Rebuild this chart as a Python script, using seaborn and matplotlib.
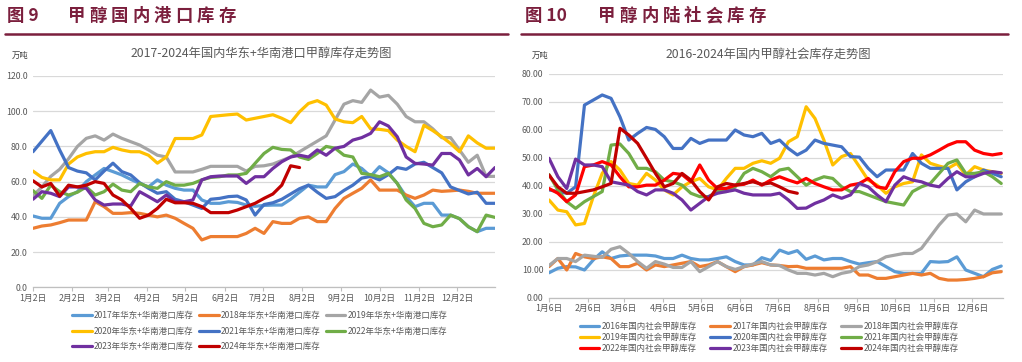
import matplotlib
matplotlib.use("Agg")
import numpy as np
import pandas as pd
import matplotlib.pyplot as plt
import seaborn as sns
from matplotlib.lines import Line2D

sns.set_theme(style="white")
plt.rcParams['font.family'] = ['Noto Sans CJK SC', 'DejaVu Sans']
plt.rcParams['axes.unicode_minus'] = False

# ---------------- Left chart data (weekly, from 1月2日) ----------------
left_labels = ["2017年华东+华南港口库存", "2018年华东+华南港口库存", "2019年华东+华南港口库存",
               "2020年华东+华南港口库存", "2021年华东+华南港口库存", "2022年华东+华南港口库存",
               "2023年华东+华南港口库存", "2024年华东+华南港口库存"]
left_colors = ["#5B9BD5", "#ED7D31", "#A5A5A5", "#FFC000", "#4472C4", "#70AD47", "#7030A0", "#C00000"]

port_2017 = [40.5, 39.2, 39.2, 47.7, 51.5, 54.3, 60, 63.8, 67.5, 65.7, 63.8, 61.3, 59, 57, 61, 58, 56.2,
             55.2, 55.2, 49.6, 47.7, 47.7, 48.6, 48.2, 46.7, 46, 46.5, 46.7, 46.7, 50, 54, 58, 57, 57,
             64, 65.7, 70, 67.5, 63, 68.5, 65, 59, 51.5, 45.8, 47.7, 47.7, 41, 41, 39, 34.4, 31.6, 33.5, 33.5]
port_2018 = [33.5, 34.8, 35.4, 36.7, 38.2, 38.2, 38.2, 48.6, 45.8, 42, 42, 42.4, 42, 41, 40, 41, 39.2,
             36.3, 33.5, 26.9, 28.8, 28.8, 28.8, 28.8, 30.6, 33.5, 30.6, 37.3, 36.3, 36.3, 39.2, 40,
             37.3, 37.3, 44.8, 50.5, 53.4, 56.2, 61, 55.2, 55.2, 55.2, 52.4, 50.5, 52.4, 55.2, 54.5,
             54.8, 55.2, 54.5, 53.4, 53.4, 53.4]
port_2019 = [52, 57, 63, 67, 73, 80, 84.6, 86, 83.6, 87, 84.6, 82.7, 80.8, 78, 75, 74, 65.5, 65.5, 65.5,
             67, 68.7, 68.7, 68.7, 68.7, 66, 68.7, 69, 70, 72, 74, 77, 80, 83, 86, 95, 104, 106, 105,
             112, 108, 109, 104, 97, 94, 94, 90, 85, 85, 78, 71, 75, 63, 63]
port_2020 = [66, 62.4, 61, 61, 70, 74, 76, 77, 77, 79.5, 78, 77, 77, 75, 70.5, 74, 84.5, 84.5, 84.5,
             86.5, 97, 97.5, 98, 98.4, 95, 96, 97, 98, 96, 93.5, 99.7, 104.4, 106, 103.5, 95.6, 94,
             93.5, 97, 90, 89.7, 89, 83.6, 80, 77, 92, 89, 85.5, 81.7, 77, 86, 82, 79, 79]
port_2021 = [77, 83, 89, 78, 68, 66, 65, 61, 66, 70.5, 65.7, 63.8, 59.4, 56.2, 53.4, 54.3, 50, 48.6,
             46.7, 44.8, 50, 50.5, 51.5, 51.8, 49.6, 41, 47, 48, 50, 53, 56, 58, 54, 50.5, 51.5, 55,
             58, 62, 63, 61, 64, 68, 67, 70, 71, 68, 65, 57, 55, 53, 54, 47.7, 47.7]
port_2022 = [54.9, 50.5, 58, 54.3, 52.4, 54, 57, 52.4, 54.3, 58.6, 55.2, 54.3, 59, 57, 56.2, 60, 58, 58,
             59, 61, 62.4, 62.8, 63.8, 63.8, 64.7, 70.4, 76, 79.5, 78.3, 78, 74, 72.6, 76, 80, 79, 75,
             74, 64.7, 64, 62.8, 64.7, 59, 49.6, 44.8, 36.3, 34.4, 35.4, 41, 39, 34.4, 31.6, 41, 39.7]
port_2023 = [50, 54.3, 53.4, 51.5, 57, 57, 56.2, 49.6, 46.7, 47.3, 47.3, 46.2, 54.3, 51.5, 48.6, 52.4,
             48.6, 48.6, 49.6, 61, 62.8, 63.2, 63.2, 63.2, 59, 62.8, 62.8, 67.5, 71.3, 74, 75, 74, 78,
             75, 79, 80, 83.6, 85, 87.4, 94, 91.6, 85.5, 74, 70.4, 70, 69.4, 76, 76, 72.3, 63.8, 67.5,
             62.8, 68]
port_2024 = [60.5, 57, 59, 51.8, 58, 57, 58, 60, 59, 52.4, 49.6, 44.8, 39.2, 41, 44.8, 50, 48, 48, 47.7,
             45.8, 42.4, 42.4, 42.4, 43.9, 45.8, 47.7, 50.5, 53, 58, 69, 68]
left_series = [port_2017, port_2018, port_2019, port_2020, port_2021, port_2022, port_2023, port_2024]
left_ticklabels = ["1月2日", "2月2日", "3月2日", "4月2日", "5月2日", "6月2日", "7月2日", "8月2日",
                   "9月2日", "10月2日", "11月2日", "12月2日"]

# ---------------- Right chart data (weekly, from 1月6日) ----------------
right_labels = ["2016年国内社会甲醇库存", "2017年国内社会甲醇库存", "2018年国内社会甲醇库存",
                "2019年国内社会甲醇库存", "2020年国内社会甲醇库存", "2021年国内社会甲醇库存",
                "2022年国内社会甲醇库存", "2023年国内社会甲醇库存", "2024年国内社会甲醇库存"]
right_colors = ["#5B9BD5", "#ED7D31", "#A5A5A5", "#FFC000", "#4472C4", "#70AD47", "#FF0000", "#7030A0", "#C00000"]

soc_2016 = [8.9, 10.5, 11.1, 11, 9.9, 13.5, 16.4, 14, 14.9, 15.2, 15.2, 15.2, 14.9, 14, 14, 15.2, 14,
            13.5, 13.5, 14, 14.6, 12.9, 11.7, 11.7, 14.3, 13.3, 17, 15.8, 16.8, 13.7, 14.9, 13.5, 14,
            14, 12.9, 12, 12.5, 12.9, 11.1, 9.3, 8.7, 8.7, 8.7, 12.9, 12.7, 12.9, 14.6, 9.9, 8.7, 7.5,
            10.1, 11.3]
soc_2017 = [11.1, 14, 9.9, 15.8, 14.6, 14, 14.6, 14, 11.1, 11.1, 12.3, 9.9, 11.7, 11.1, 11.7, 12.3,
            12.9, 11.1, 11.7, 12.9, 11.1, 9.3, 11.1, 11.7, 12.5, 11.7, 11.5, 11.1, 11.2, 10.5, 10.5,
            10.5, 10.5, 10.5, 11.1, 8.1, 8.1, 6.9, 6.9, 7.5, 8.1, 8.7, 8.1, 8.7, 6.9, 6.3, 6.3, 6.5,
            6.9, 7.5, 8.9, 9.3]
soc_2018 = [11.5, 14, 14, 12.9, 15.2, 14.8, 14.4, 17.3, 18.2, 15.8, 12.9, 10.5, 12.9, 12, 10.8, 10.8,
            12.9, 9.3, 11.1, 12.9, 11.1, 10.1, 11.1, 12, 12.9, 11.7, 11.5, 9.9, 8.7, 8.7, 8.1, 8.7,
            7.5, 8.7, 9.3, 11.1, 11.7, 12.9, 14.6, 15.2, 15.8, 15.8, 17.6, 21.8, 26, 29.5, 29.9, 27.1,
            31.3, 29.9, 29.9, 29.9]
soc_2019 = [34.9, 31.3, 30.7, 26, 26.5, 36.1, 44.4, 48.6, 45.6, 40.8, 40.2, 44.4, 42, 38.5, 36.7, 39.6,
            41.4, 42.6, 39.6, 38.5, 42.6, 46.2, 46.2, 48, 48.9, 48, 49.8, 55.7, 57.5, 68.2, 64, 56.3,
            47.4, 50.4, 51.5, 46.8, 42, 40.2, 37.3, 39.6, 40.8, 41.4, 51, 48, 47, 46.2, 48, 43.8, 46.8,
            45.6, 45, 44.4]
soc_2020 = [38.5, 37.9, 37.3, 39.6, 68.8, 70.6, 72.4, 71.2, 64.6, 56.3, 58.7, 60.8, 60.1, 57.5, 53.3,
            53.3, 56.9, 55.1, 56.3, 56.3, 56.3, 59.9, 58.1, 57.5, 58.7, 55.1, 56.3, 53.3, 51, 52.7,
            56.3, 55.1, 54.5, 53.9, 50.4, 50.2, 46.2, 43.2, 45.6, 45.6, 45.6, 51.5, 48, 46.2, 46.2,
            46.2, 38.5, 41.4, 43.2, 45.6, 44.4, 43.2]
soc_2021 = [44, 38.5, 34.3, 31.9, 34.3, 36.1, 37.9, 54.5, 54.9, 51.5, 46.2, 46.2, 45, 42, 41.4, 40.2,
            37.3, 36.1, 36.1, 37.9, 37.9, 39.6, 44.4, 46.2, 45, 43.2, 45.6, 46.2, 43.2, 40.2, 42, 43.2,
            42.6, 39.6, 37.9, 37.9, 36.7, 35.5, 34.3, 33.7, 33.1, 37.9, 39.6, 40.8, 44.4, 48, 49.2,
            44.4, 44.4, 45, 43.2, 40.8]
soc_2022 = [39, 37.3, 34.3, 36.7, 46.8, 47.4, 48.6, 47.4, 43.2, 39.6, 39.6, 40.2, 40.2, 42, 44.4, 44,
            41.4, 47.4, 42, 39, 39, 40.2, 40.5, 42, 40.2, 42, 43.2, 42, 41, 42.6, 40.8, 39.6, 38.5,
            38.5, 40.2, 40.8, 42.6, 39.6, 39, 45, 48.6, 49.8, 49.8, 51, 52.7, 54.5, 55.7, 55.7, 52.7,
            51.5, 51, 51.5]
soc_2023 = [49.8, 43.2, 39, 49.5, 47.4, 47.4, 46.8, 41.4, 40.8, 40.2, 37.9, 36.7, 38.5, 38.5, 37.3,
            34.9, 31.3, 33.7, 36.1, 37.3, 37.9, 38.5, 37.3, 36.7, 36.7, 36.7, 37.3, 34.9, 31.9, 32,
            33.7, 34.9, 36.7, 35.5, 36.7, 40.8, 39.6, 36.7, 34.3, 40.2, 43.2, 42, 41.4, 40.2, 39.6,
            42.6, 45, 43.2, 43.2, 44.4, 45, 44.6]
soc_2024 = [43.8, 39.6, 37.3, 37.3, 37.9, 38.5, 39.6, 40.8, 60.5, 58.1, 55.1, 49.8, 44.4, 39.6, 40.8,
            44.4, 42, 37.9, 34.9, 39.6, 40.8, 40.2, 40.8, 41.4, 40.5, 41, 39.6, 38, 37.3]
right_series = [soc_2016, soc_2017, soc_2018, soc_2019, soc_2020, soc_2021, soc_2022, soc_2023, soc_2024]
right_ticklabels = ["1月6日", "2月6日", "3月6日", "4月6日", "5月6日", "6月6日", "7月6日", "8月6日",
                    "9月6日", "10月6日", "11月6日", "12月6日"]
month_day_offsets = [0, 31, 59, 90, 120, 151, 181, 212, 243, 273, 304, 334]


def to_long(labels, series):
    rows = []
    for name, vals in zip(labels, series):
        for i, v in enumerate(vals):
            rows.append((i, v, name))
    return pd.DataFrame(rows, columns=["week", "value", "series"])


W, H = 1022, 362
fig = plt.figure(figsize=(W / 100, H / 100), dpi=100)
fig.patch.set_facecolor("white")


def fx(px):
    return px / W


def fy(py):
    return 1 - py / H


MAROON = "#7B1F3D"
GRAY_TXT = "#595959"

axL = fig.add_axes([fx(33), fy(287.3), fx(495 - 33), (287.3 - 76) / H])
axR = fig.add_axes([fx(549), fy(297.7), fx(1003 - 549), (297.7 - 73.7) / H])

dfL = to_long(left_labels, left_series)
dfR = to_long(right_labels, right_series)

sns.lineplot(data=dfL, x="week", y="value", hue="series", hue_order=left_labels,
             palette=left_colors, linewidth=2.3, ax=axL, estimator=None, sort=False)
sns.lineplot(data=dfR, x="week", y="value", hue="series", hue_order=right_labels,
             palette=right_colors, linewidth=2.3, ax=axR, estimator=None, sort=False)


def style_axis(ax, ymax, ystep, fmt, xmax, ticklabels, pad):
    ax.set_ylim(0, ymax)
    ax.set_xlim(0, xmax)
    yt = np.arange(0, ymax + 0.001, ystep)
    ax.set_yticks(yt)
    ax.set_yticklabels([fmt % v for v in yt])
    ax.set_xticks([d / 7 for d in month_day_offsets])
    ax.set_xticklabels(ticklabels)
    ax.grid(axis="y", color="#D9D9D9", linewidth=0.9)
    ax.grid(axis="x", visible=False)
    ax.set_axisbelow(True)
    for s in ["top", "right", "left"]:
        ax.spines[s].set_visible(False)
    ax.spines["bottom"].set_color("#BFBFBF")
    ax.spines["bottom"].set_linewidth(0.9)
    ax.tick_params(axis="y", length=0, pad=pad, labelsize=6.3, labelcolor=GRAY_TXT)
    ax.tick_params(axis="x", length=3, width=0.8, color="#BFBFBF", pad=1.5, labelsize=6.3,
                   labelcolor=GRAY_TXT, direction="out", bottom=True)
    ax.set_xlabel("")
    ax.set_ylabel("")
    ax.set_facecolor("white")


style_axis(axL, 120, 20, "%.1f", 52, left_ticklabels, 4)
style_axis(axR, 80, 10, "%.2f", 51.2, right_ticklabels, 4)


def make_legend(ax, n, anchor, spacing, colspace):
    handles, labels = ax.get_legend_handles_labels()
    ax.get_legend().remove()
    for h in handles:
        h.set_linewidth(2.3)
    order = []
    for c in range(3):
        order += list(range(c, n, 3))
    fig.legend([handles[i] for i in order], [labels[i] for i in order], ncol=3,
               loc="upper center", bbox_to_anchor=anchor, frameon=False, fontsize=6.1,
               handlelength=2.3, handletextpad=0.3, columnspacing=colspace,
               labelspacing=spacing, borderpad=0.0, labelcolor=GRAY_TXT)


make_legend(axL, 8, (fx(260), fy(307)), 0.75, 0.6)
make_legend(axR, 9, (fx(769), fy(318)), 0.2, 1.6)

# headers
def header(x0, num, x1, text, y):
    fig.text(fx(x0), fy(y), num, fontsize=12.5, fontweight="bold", color=MAROON, va="center", ha="left")
    step = 21.5
    for i, ch in enumerate(text):
        fig.text(fx(x1 + i * step), fy(y), ch, fontsize=12.5, fontweight="bold", color=MAROON,
                 va="center", ha="left")


header(7, "图 9", 68, "甲醇国内港口库存", 16)
header(525, "图 10", 598, "甲醇内陆社会库存", 16)

fig.add_artist(Line2D([fx(5), fx(508)], [fy(34), fy(34)], color=MAROON, lw=1.8))
fig.add_artist(Line2D([fx(521), fx(1008)], [fy(33.5), fy(33.5)], color=MAROON, lw=1.8))

fig.text(fx(261), fy(53), "2017-2024年国内华东+华南港口甲醇库存走势图", fontsize=8.8,
         color=GRAY_TXT, ha="center", va="center")
fig.text(fx(768), fy(54), "2016-2024年国内甲醇社会库存走势图", fontsize=8.8,
         color=GRAY_TXT, ha="center", va="center")
fig.text(fx(20), fy(55), "万吨", fontsize=6, color="#404040", ha="center", va="center")
fig.text(fx(540), fy(55), "万吨", fontsize=6, color="#404040", ha="center", va="center")

fig.savefig("out.png", dpi=100, facecolor="white")
